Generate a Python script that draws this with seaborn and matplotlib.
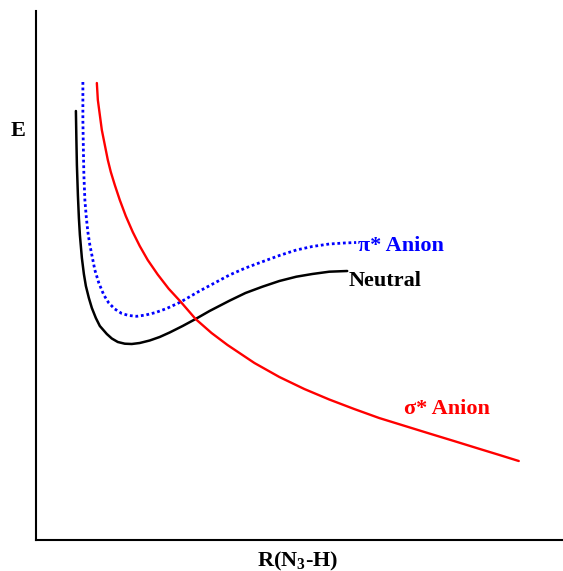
import matplotlib
matplotlib.use("Agg")
import matplotlib.pyplot as plt
import seaborn as sns
import pandas as pd

# Curves (R in arbitrary units, E in picture rows; flipped below)
neutral_R = [76, 76.5, 77, 78, 79, 80, 82, 84, 86, 89, 92, 96, 100, 107, 112, 118, 125, 132,
             140, 150, 160, 170, 183, 196, 210, 230, 246, 263, 280, 297, 313, 330, 348]
neutral_Ey = [111, 140, 165, 195, 218, 235, 258, 274, 286, 298, 308, 318, 326, 334, 338.5,
              342, 343.7, 344, 343, 340.5, 337, 332.5, 326, 319, 311, 300.7, 293, 286.7, 281,
              276.7, 274, 271.7, 271]

pi_R = [83, 83, 83.5, 84, 85, 86.5, 88, 90, 92, 95, 99, 104, 109, 115, 122, 129, 137, 146,
        156, 167, 181, 200, 215, 230, 246, 263, 280, 297, 313, 330, 345, 357]
pi_Ey = [82, 120, 150, 175, 200, 218, 232, 245, 255, 270, 283, 295, 303, 309, 313.5, 315.5,
         316.3, 315, 312.5, 308.5, 302, 291, 283, 275, 268, 261.7, 255.5, 250, 246.5, 244,
         243, 242.5]

sigma_R = [97, 98, 100, 102, 105, 108, 111, 115, 120, 126, 133, 140, 148, 158, 169, 181, 196,
           212, 228, 240, 255, 280, 305, 330, 355, 380, 405, 430, 455, 480, 500, 520]
sigma_Ey = [83, 100, 115, 130, 145, 160, 172, 185, 200, 216, 232, 246, 260, 274.5, 288.7,
            301.7, 319, 333, 345, 353, 363, 377, 389, 399.5, 409, 418, 425.7, 433.4, 441,
            448.7, 454.8, 461]

TOP = 571  # flip picture rows into energy values
neutral_E = [TOP - v for v in neutral_Ey]
pi_E = [TOP - v for v in pi_Ey]
sigma_E = [TOP - v for v in sigma_Ey]

labels = ["Neutral", "π* Anion", "σ* Anion"]
colors = ["black", "blue", "red"]

sns.set_style("white")
plt.rcParams["font.family"] = ["Liberation Serif", "DejaVu Serif"]
plt.rcParams["text.color"] = "black"
plt.rcParams["mathtext.fontset"] = "custom"
plt.rcParams["mathtext.rm"] = "Liberation Serif"
plt.rcParams["mathtext.bf"] = "Liberation Serif:bold"

fig = plt.figure(figsize=(5.63, 5.71), dpi=100)
ax = fig.add_axes([36 / 563, 31 / 571, 1 - 36 / 563 + 0.01, 529 / 571])

df_n = pd.DataFrame({"R": neutral_R, "E": neutral_E})
df_p = pd.DataFrame({"R": pi_R, "E": pi_E})
df_s = pd.DataFrame({"R": sigma_R, "E": sigma_E})

sns.lineplot(data=df_n, x="R", y="E", sort=False, estimator=None, color="black", lw=1.8, ax=ax)
sns.lineplot(data=df_p, x="R", y="E", sort=False, estimator=None, color="blue", lw=2.0,
             linestyle=(0, (1, 1)), ax=ax)
sns.lineplot(data=df_s, x="R", y="E", sort=False, estimator=None, color="red", lw=1.7, ax=ax)

ax.set_xlim(36, 570)
ax.set_ylim(31, 560)
ax.set_xticks([])
ax.set_yticks([])
ax.set_xlabel("")
ax.set_ylabel("")
for side in ["top", "right"]:
    ax.spines[side].set_visible(False)
for side in ["left", "bottom"]:
    ax.spines[side].set_color("black")
    ax.spines[side].set_linewidth(1.5)

fs = 16
ax.text(349, TOP - 281, labels[0], color=colors[0], fontsize=fs, fontweight="bold",
        ha="left", va="center")
ax.text(359, TOP - 246, labels[1], color=colors[1], fontsize=fs, fontweight="bold",
        ha="left", va="center")
ax.text(405, TOP - 409, labels[2], color=colors[2], fontsize=fs, fontweight="bold",
        ha="left", va="center")

fig.text(18 / 563, 1 - 131 / 571, "E", fontsize=fs, fontweight="bold", color="black",
         ha="center", va="center")
fig.text(298 / 563, 1 - 561 / 571, r"R(N$_\mathbf{3}$-H)", fontsize=fs, fontweight="bold",
         color="black", ha="center", va="center")

fig.savefig("out.png", dpi=100)
